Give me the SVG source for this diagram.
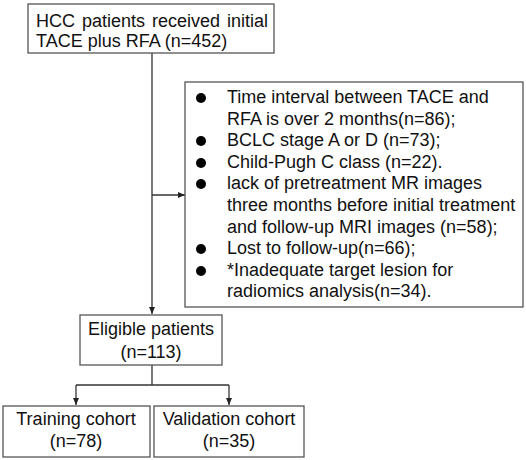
<svg xmlns="http://www.w3.org/2000/svg" width="526" height="460" viewBox="0 0 526 460">
<style>
.box{fill:#fff;stroke:#555;stroke-width:1.3}
.t{font-family:"Liberation Sans",Arial,sans-serif;font-size:18px;fill:#111}
.c{text-anchor:middle}
.ln{stroke:#333;stroke-width:1.3;fill:none}
</style>
<defs>
<marker id="ah" markerWidth="7" markerHeight="6" refX="7" refY="3" orient="auto" markerUnits="userSpaceOnUse">
<path d="M0,0 L7,3 L0,6 Z" fill="#222"/>
</marker>
</defs>
<rect width="526" height="460" fill="#fff"/>
<g id="connectors">
<path class="ln" d="M152,53 V314" marker-end="url(#ah)"/>
<path class="ln" d="M152,195 H185" marker-end="url(#ah)"/>
<path class="ln" d="M152,365 V385"/>
<path class="ln" d="M76,385 H229"/>
<path class="ln" d="M76,385 V405" marker-end="url(#ah)"/>
<path class="ln" d="M229,385 V405" marker-end="url(#ah)"/>
</g>
<g id="n-start">
<rect class="box" x="28" y="4" width="246" height="49"/>
<text class="t" x="36" y="27" word-spacing="2">HCC patients received initial</text>
<text class="t" x="36" y="47">TACE plus RFA (n=452)</text>
</g>
<g id="n-exclusion">
<rect class="box" x="185" y="82" width="338" height="225"/>
<g fill="#000">
<circle cx="201" cy="98" r="5"/>
<circle cx="201" cy="141" r="5"/>
<circle cx="201" cy="163" r="5"/>
<circle cx="201" cy="184" r="5"/>
<circle cx="201" cy="249" r="5"/>
<circle cx="201" cy="271" r="5"/>
</g>
<text class="t" x="227" y="103">Time interval between TACE and</text>
<text class="t" x="227" y="125">RFA is over 2 months(n=86);</text>
<text class="t" x="227" y="146">BCLC stage A or D (n=73);</text>
<text class="t" x="227" y="168">Child-Pugh C class (n=22).</text>
<text class="t" x="227" y="189">lack of pretreatment MR images</text>
<text class="t" x="227" y="211">three months before initial treatment</text>
<text class="t" x="227" y="233">and follow-up MRI images (n=58);</text>
<text class="t" x="227" y="254">Lost to follow-up(n=66);</text>
<text class="t" x="227" y="276">*Inadequate target lesion for</text>
<text class="t" x="227" y="297">radiomics analysis(n=34).</text>
</g>
<g id="n-eligible">
<rect class="box" x="80" y="315" width="142" height="50"/>
<text class="t c" x="151" y="335">Eligible patients</text>
<text class="t c" x="151" y="358">(n=113)</text>
</g>
<g id="n-training">
<rect class="box" x="3" y="406" width="147" height="51"/>
<text class="t c" x="76" y="425">Training cohort</text>
<text class="t c" x="76" y="447">(n=78)</text>
</g>
<g id="n-validation">
<rect class="box" x="154" y="406" width="150" height="51"/>
<text class="t c" x="229" y="425">Validation cohort</text>
<text class="t c" x="229" y="447">(n=35)</text>
</g>
</svg>
